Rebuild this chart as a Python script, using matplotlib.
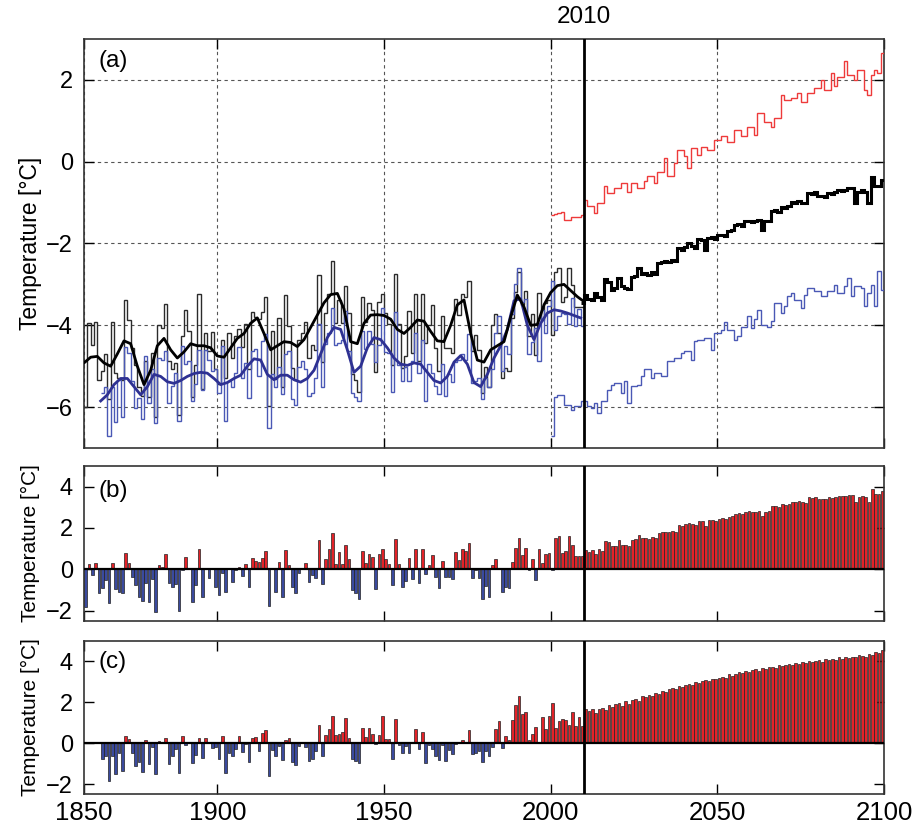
import numpy as np
import matplotlib
matplotlib.use('Agg')
import matplotlib.pyplot as plt

plt.rcParams['font.family'] = ['Liberation Sans', 'DejaVu Sans']

# ---------------- DATA ----------------
obs_years = np.arange(1860, 2010)
black_obs = [
 -6.00,-3.94,-4.47,-3.91,-5.33,-5.12,-4.70,-5.81,-3.91,-5.17,
 -5.28,-5.33,-3.39,-3.88,-4.55,-4.96,-5.52,-5.72,-4.88,-5.76,
 -4.68,-6.25,-3.99,-4.07,-3.47,-4.88,-5.07,-4.91,-6.20,-4.25,
 -3.62,-4.15,-5.76,-4.96,-3.23,-5.55,-4.20,-4.64,-4.17,-5.07,
 -5.44,-4.36,-5.28,-4.20,-4.80,-4.25,-4.10,-4.52,-3.96,-5.07,
 -3.67,-3.80,-3.85,-3.67,-3.30,-5.97,-4.15,-5.31,-3.83,-5.52,
 -3.26,-4.01,-5.04,-5.33,-4.36,-4.20,-3.91,-4.80,-4.47,-4.60,
 -2.78,-4.90,-3.70,-3.23,-2.43,-3.94,-3.38,-3.94,-3.04,-3.70,
 -5.20,-5.33,-5.64,-3.30,-3.91,-3.46,-3.62,-5.14,-3.44,-3.23,
 -3.70,-3.96,-4.96,-2.75,-3.96,-5.04,-4.76,-3.64,-4.68,-3.23,
 -4.88,-3.23,-4.43,-3.99,-3.51,-4.55,-5.12,-3.78,-4.55,-4.55,
 -4.68,-3.35,-3.75,-3.23,-3.30,-2.91,-4.64,-4.23,-4.60,-5.65,
 -5.01,-5.52,-3.99,-3.72,-4.18,-5.28,-5.04,-5.12,-3.83,-3.18,
 -2.70,-3.51,-3.15,-4.25,-3.72,-4.72,-3.20,-3.88,-3.46,-3.39,
 -4.23,-2.70,-2.59,-3.43,-3.30,-2.59,-3.02,-3.55,-3.55,-3.55]

blue_years = np.arange(1865, 2010)
blue_obs = [
 -5.65,-5.52,-6.71,-5.52,-6.37,
 -5.33,-6.25,-4.54,-4.67,-5.36,-6.01,-5.77,-6.30,-4.74,-5.91,
 -5.07,-6.38,-4.79,-4.85,-4.64,-5.89,-5.49,-5.16,-6.33,-4.51,
 -4.95,-4.87,-5.85,-5.44,-4.61,-5.59,-4.61,-4.85,-5.11,-5.07,
 -5.65,-4.51,-6.33,-5.36,-5.52,-5.16,-4.54,-5.29,-4.92,-5.77,
 -4.64,-4.58,-5.24,-4.38,-4.22,-6.50,-5.20,-5.52,-5.03,-5.68,
 -4.71,-4.63,-5.81,-5.96,-5.03,-4.87,-5.07,-5.72,-5.65,-5.28,
 -3.98,-5.52,-4.46,-4.19,-3.57,-4.48,-4.43,-4.35,-3.65,-4.63,
 -5.65,-5.76,-5.85,-4.14,-4.58,-4.14,-4.45,-4.90,-4.48,-3.57,
 -4.66,-4.67,-5.63,-3.67,-4.98,-5.36,-5.03,-5.36,-4.87,-4.19,
 -5.16,-4.35,-5.85,-4.95,-5.16,-5.49,-5.68,-4.95,-5.73,-5.20,
 -5.39,-4.90,-4.85,-4.71,-4.84,-4.22,-5.41,-5.36,-5.28,-5.81,
 -5.28,-5.52,-5.07,-4.19,-3.77,-5.11,-4.51,-4.71,-3.73,-3.00,
 -2.59,-3.44,-3.36,-4.71,-4.41,-4.06,-4.87,-3.62,-4.19,-3.54,
 -2.92,-4.11,-3.77,-3.70,-3.73,-3.98,-3.33,-4.02,-3.60,-4.02]

black_smooth_years = np.arange(1860, 2011, 2)
black_smooth = [
 -4.92,-4.78,-4.76,-4.92,-5.00,-4.70,-4.38,-4.45,-5.00,-5.45,
 -5.10,-4.50,-4.32,-4.60,-4.80,-4.65,-4.45,-4.50,-4.50,-4.55,
 -4.75,-4.78,-4.55,-4.32,-4.20,-3.95,-3.82,-4.20,-4.60,-4.50,
 -4.40,-4.42,-4.52,-4.35,-4.05,-3.75,-3.45,-3.25,-3.22,-3.60,
 -4.40,-4.45,-3.95,-3.75,-3.74,-3.76,-3.85,-4.10,-4.20,-4.05,
 -3.87,-3.90,-4.15,-4.38,-4.40,-4.00,-3.50,-3.38,-4.20,-4.85,
 -4.90,-4.60,-4.50,-4.40,-3.80,-3.26,-3.55,-4.00,-3.98,-3.50,
 -3.20,-3.03,-3.00,-3.15,-3.30,-3.42]

blue_smooth_years = np.arange(1865, 2010, 2)
blue_smooth = [
 -5.85,-5.70,-5.45,-5.30,-5.30,-5.50,-5.70,-5.50,-5.20,-5.25,
 -5.38,-5.42,-5.35,-5.25,-5.18,-5.15,-5.17,-5.30,-5.45,-5.40,
 -5.30,-5.22,-5.00,-4.82,-4.85,-5.20,-5.33,-5.22,-5.22,-5.33,
 -5.39,-5.30,-5.10,-4.70,-4.30,-4.05,-4.10,-4.60,-5.15,-5.00,
 -4.55,-4.30,-4.35,-4.55,-4.80,-4.95,-4.98,-4.92,-4.95,-5.15,
 -5.35,-5.41,-5.25,-4.90,-4.74,-4.95,-5.40,-5.50,-5.20,-4.80,
 -4.50,-4.10,-3.40,-3.35,-4.00,-4.35,-3.95,-3.70,-3.62,-3.65,
 -3.70,-3.76,-3.82]

proj_years = np.arange(2000, 2100)
red_proj = [
 -1.30,-1.28,-1.25,-1.22,-1.42,-1.42,-1.34,-1.34,-1.34,-1.30,
 -0.93,-1.09,-1.09,-1.26,-1.00,-1.00,-0.60,-0.77,-0.77,-0.65,
 -0.65,-0.52,-0.52,-0.73,-0.52,-0.52,-0.65,-0.65,-0.48,-0.36,
 -0.36,-0.52,-0.24,-0.24, 0.09,-0.36,-0.36,-0.04, 0.29, 0.29,
  0.13,-0.16, 0.33, 0.33, 0.17, 0.37, 0.37, 0.29, 0.29, 0.53,
  0.53, 0.62, 0.62, 0.49, 0.49, 0.78, 0.78, 0.62, 0.62, 0.86,
  0.86, 0.66, 1.19, 1.19, 0.98, 0.98, 0.84, 1.06, 1.06, 1.63,
  1.51, 1.51, 1.55, 1.55, 1.67, 1.47, 1.47, 1.67, 1.67, 1.80,
  1.80, 2.00, 1.76, 1.76, 2.18, 1.84, 2.08, 2.08, 2.45, 2.12,
  2.12, 2.00, 2.24, 2.24, 1.76, 1.63, 2.12, 2.24, 2.16, 2.65]

blue_proj = [
 -6.70,-5.75,-5.70,-5.70,-5.94,-5.94,-6.06,-5.98,-5.98,-5.86,
 -5.86,-5.98,-6.02,-5.90,-6.14,-5.86,-5.86,-5.57,-5.45,-5.41,
 -5.41,-5.65,-5.37,-5.90,-5.49,-5.49,-5.45,-5.25,-5.08,-5.08,
 -5.29,-5.17,-5.17,-5.25,-5.25,-4.88,-4.88,-4.80,-4.80,-4.68,
 -4.64,-4.64,-4.84,-4.39,-4.35,-4.35,-4.31,-4.31,-4.60,-4.19,
 -4.19,-4.11,-3.93,-4.11,-4.11,-4.35,-4.27,-4.03,-4.03,-3.78,
 -4.07,-3.85,-3.62,-3.99,-3.99,-4.03,-3.90,-3.46,-3.46,-3.70,
 -3.54,-3.29,-3.21,-3.37,-3.37,-3.58,-3.25,-3.09,-3.09,-3.17,
 -3.17,-3.29,-3.29,-3.17,-3.17,-3.01,-3.21,-3.21,-3.05,-2.85,
 -3.29,-3.05,-3.05,-3.09,-3.54,-3.21,-3.01,-3.54,-2.68,-3.13]

black_proj_years = np.arange(2009, 2100)
black_proj = [
 -3.45,
 -3.25,-3.35,-3.38,-3.22,-3.30,-3.38,-2.87,-2.95,-3.13,-3.10,
 -2.85,-3.05,-3.09,-3.12,-2.82,-2.80,-2.60,-2.75,-2.72,-2.78,
 -2.70,-2.75,-2.48,-2.45,-2.42,-2.45,-2.40,-2.42,-2.10,-2.15,
 -2.08,-2.00,-2.05,-2.10,-1.90,-1.92,-2.15,-1.87,-1.85,-1.90,
 -1.80,-1.78,-1.82,-1.70,-1.68,-1.55,-1.52,-1.58,-1.46,-1.44,
 -1.48,-1.46,-1.42,-1.66,-1.46,-1.44,-1.20,-1.18,-1.22,-1.10,
 -1.12,-1.08,-0.98,-1.00,-0.96,-1.00,-1.02,-0.77,-0.80,-0.75,
 -0.85,-0.83,-0.87,-0.77,-0.79,-0.75,-0.70,-0.72,-0.68,-0.65,
 -0.65,-1.00,-0.73,-0.70,-0.75,-1.00,-0.38,-0.60,-0.60,-0.45]

b_years = np.arange(1860, 2100)
b_anom = [
 -1.80, 0.26,-0.27, 0.29,-1.13,-0.92,-0.50,-1.61, 0.29,-0.97,
 -1.08,-1.13, 0.81, 0.32,-0.35,-0.76,-1.32,-1.52,-0.68,-1.56,
 -0.48,-2.05, 0.21, 0.13, 0.73,-0.68,-0.87,-0.71,-2.00,-0.05,
  0.58, 0.05,-1.56,-0.76, 0.97,-1.35, 0.00,-0.44, 0.03,-0.87,
 -1.24,-0.16,-1.08, 0.00,-0.60,-0.05, 0.10,-0.32, 0.24,-0.87,
  0.53, 0.40, 0.35, 0.53, 0.90,-1.77, 0.05,-1.11, 0.37,-1.32,
  0.94, 0.19,-0.84,-1.13,-0.16, 0.00, 0.29,-0.60,-0.27,-0.40,
  1.42,-0.70, 0.50, 0.97, 1.77, 0.26, 0.82, 0.26, 1.16, 0.50,
 -1.00,-1.13,-1.44, 0.90, 0.29, 0.74, 0.58,-0.94, 0.76, 0.97,
  0.50, 0.24,-0.76, 1.45, 0.24,-0.84,-0.56, 0.56,-0.48, 0.97,
 -0.68, 0.97,-0.23, 0.21, 0.69,-0.35,-0.92, 0.42,-0.35,-0.35,
 -0.48, 0.85, 0.45, 0.97, 0.90, 1.29,-0.44,-0.03,-0.40,-1.45,
 -0.81,-1.32, 0.21, 0.48, 0.02,-1.08,-0.84,-0.92, 0.37, 1.02,
  1.50, 0.69, 1.05,-0.05, 0.48,-0.52, 1.00, 0.32, 0.74, 0.81,
 -0.03, 1.50, 1.61, 0.77, 0.90, 1.61, 1.18, 0.65, 0.65, 0.65,
  0.94, 0.85, 0.94, 0.73, 0.97, 0.87, 1.38, 1.30, 1.12, 1.15,
  1.40, 1.20, 1.16, 1.13, 1.43, 1.45, 1.65, 1.50, 1.53, 1.47,
  1.55, 1.50, 1.77, 1.80, 1.83, 1.80, 1.85, 1.83, 2.15, 2.10,
  2.17, 2.25, 2.20, 2.15, 2.35, 2.33, 2.10, 2.38, 2.40, 2.35,
  2.45, 2.47, 2.43, 2.55, 2.57, 2.70, 2.73, 2.67, 2.79, 2.81,
  2.77, 2.79, 2.83, 2.59, 2.79, 2.81, 3.05, 3.07, 3.03, 3.15,
  3.13, 3.17, 3.27, 3.25, 3.29, 3.25, 3.23, 3.48, 3.45, 3.50,
  3.40, 3.42, 3.38, 3.48, 3.46, 3.50, 3.55, 3.53, 3.57, 3.60,
  3.60, 3.25, 3.52, 3.55, 3.50, 3.25, 3.87, 3.65, 3.65, 3.80]

c_years = np.arange(1865, 2100)
c_anom = [
 -0.78,-0.65,-1.84,-0.65,-1.50,
 -0.46,-1.38, 0.33, 0.20,-0.49,-1.14,-0.90,-1.43, 0.13,-1.04,
 -0.20,-1.51, 0.08, 0.02, 0.23,-1.02,-0.62,-0.29,-1.46, 0.36,
 -0.08, 0.00,-0.98,-0.57, 0.26,-0.72, 0.26, 0.02,-0.24,-0.20,
 -0.78, 0.36,-1.46,-0.49,-0.65,-0.29, 0.33,-0.42,-0.05,-0.90,
  0.23, 0.29,-0.37, 0.49, 0.65,-1.63,-0.33,-0.65,-0.16,-0.81,
  0.16, 0.24,-0.94,-1.09,-0.16, 0.00,-0.20,-0.85,-0.78,-0.41,
  0.89,-0.65, 0.41, 0.68, 1.30, 0.39, 0.44, 0.52, 1.22, 0.24,
 -0.78,-0.89,-0.98, 0.73, 0.29, 0.73, 0.42,-0.03, 0.39, 1.30,
  0.21, 0.20,-0.76, 1.20,-0.11,-0.49,-0.16,-0.49, 0.00, 0.68,
 -0.29, 0.52,-0.98,-0.08,-0.29,-0.62,-0.81,-0.08,-0.86,-0.33,
 -0.52,-0.03, 0.02, 0.16, 0.03, 0.65,-0.54,-0.49,-0.41,-0.94,
 -0.41,-0.65,-0.20, 0.68, 1.10,-0.24, 0.36, 0.16, 1.14, 1.87,
  2.28, 1.43, 1.51, 0.16, 0.46, 0.81, 0.00, 1.25, 0.68, 1.33,
  1.95, 0.76, 1.10, 1.17, 1.14, 0.89, 1.54, 0.85, 1.27, 0.85,
  1.66, 1.58, 1.66, 1.46, 1.66, 1.72, 1.60, 1.85, 1.78, 1.90,
  1.95, 1.82, 2.05, 1.90, 2.10, 2.15, 2.08, 2.28, 2.25, 2.35,
  2.30, 2.45, 2.40, 2.55, 2.50, 2.62, 2.70, 2.65, 2.80, 2.75,
  2.85, 2.90, 2.82, 3.00, 2.95, 3.05, 3.10, 3.02, 3.15, 3.12,
  3.20, 3.25, 3.18, 3.35, 3.30, 3.38, 3.45, 3.40, 3.50, 3.48,
  3.55, 3.60, 3.52, 3.65, 3.62, 3.70, 3.72, 3.68, 3.80, 3.75,
  3.82, 3.85, 3.80, 3.92, 3.88, 3.95, 3.90, 4.00, 3.95, 4.02,
  4.05, 3.98, 4.10, 4.05, 4.12, 4.08, 4.18, 4.10, 4.20, 4.15,
  4.22, 4.18, 4.30, 4.25, 4.20, 4.35, 4.30, 4.45, 4.40, 4.55]

xtick_pos = [1860, 1900, 1950, 2000, 2050, 2100]
xtick_labels = ['1850', '1900', '1950', '2000', '2050', '2100']
yticks_a = [-6, -4, -2, 0, 2]
yticks_bc = [-2, 0, 2, 4]
split_year = 2010

# ---------------- FIGURE ----------------
W_PX, H_PX = 917, 834
fig = plt.figure(figsize=(W_PX / 100, H_PX / 100), dpi=100)
left = 84 / W_PX
width = 800 / W_PX
axa = fig.add_axes([left, 1 - 448 / H_PX, width, 409 / H_PX])
axb = fig.add_axes([left, 1 - 621 / H_PX, width, 155 / H_PX])
axc = fig.add_axes([left, 1 - 794.3 / H_PX, width, 153.6 / H_PX])

spine_col = '#333333'
for ax in (axa, axb, axc):
    ax.set_xlim(1860, 2100)
    ax.set_xticks(xtick_pos)
    ax.tick_params(direction='in', top=True, right=True, length=7, width=1.0,
                   labelsize=17, colors='black', pad=8)
    for s in ax.spines.values():
        s.set_color(spine_col)
        s.set_linewidth(1.2)
    ax.axvline(split_year, color='black', lw=2.0, zorder=6)

def edges(yrs):
    yrs = np.asarray(yrs)
    return np.append(yrs, yrs[-1] + 1)

# ---- panel (a)
axa.set_ylim(-7, 3)
axa.set_yticks(yticks_a)
axa.grid(True, color='#555555', linestyle=(0, (3, 3)), lw=0.8)
axa.stairs(black_obs, edges(obs_years), color='#2b2b2b', lw=1.0, baseline=None, zorder=2)
axa.stairs(blue_obs, edges(blue_years), color='#4a58b5', lw=1.0, baseline=None, zorder=2)
axa.plot(blue_smooth_years, blue_smooth, color='#2e3192', lw=2.0, zorder=4)
axa.plot(black_smooth_years, black_smooth, color='black', lw=2.0, zorder=4)
axa.stairs(red_proj, edges(proj_years), color='#ee3a3a', lw=1.0, baseline=None, zorder=3)
axa.stairs(blue_proj, edges(proj_years), color='#4a58b5', lw=1.0, baseline=None, zorder=3)
axa.stairs(black_proj, edges(black_proj_years), color='black', lw=2.2, baseline=None, zorder=5)
axa.tick_params(labelbottom=False)
axa.text(0.018, 0.946, '(a)', transform=axa.transAxes, fontsize=17.5, va='center', ha='left')
axa.text(split_year, 1.0 + 11 / 409, '2010', transform=axa.get_xaxis_transform(),
         ha='center', va='bottom', fontsize=17.5)

# ---- panels (b), (c)
red_c, blue_c = '#e32228', '#3a4a9e'
for ax, yrs, vals, lab, ly in ((axb, b_years, b_anom, '(b)', 0.84),
                               (axc, c_years, c_anom, '(c)', 0.86)):
    ax.set_ylim(-2.5, 5)
    ax.set_yticks(yticks_bc)
    cols = [red_c if v >= 0 else blue_c for v in vals]
    ax.bar(np.asarray(yrs) + 0.5, vals, width=0.8, color=cols,
           edgecolor='#222222', linewidth=0.5, zorder=2)
    ax.axhline(0, color='black', lw=1.6, zorder=5)
    ax.text(0.018, ly, lab, transform=ax.transAxes, fontsize=17.5, va='center', ha='left')

axb.tick_params(labelbottom=False)
axc.set_xticklabels(xtick_labels)
axc.tick_params(axis='x', labelsize=18.5, pad=5)

for yc, fs in ((243.5, 16.5), (543.5, 15), (717.5, 15)):
    fig.text(30 / W_PX, 1 - yc / H_PX, 'Temperature [°C]', rotation=90,
             ha='center', va='center', fontsize=fs)

fig.savefig('out.png', dpi=100)
